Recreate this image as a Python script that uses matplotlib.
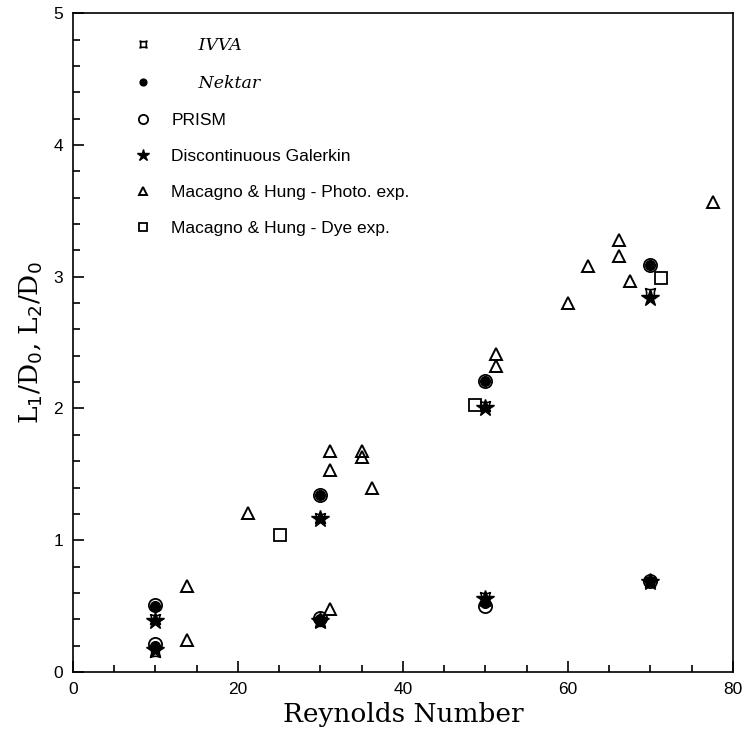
import matplotlib.pyplot as plt
import numpy as np
from matplotlib.path import Path
from matplotlib.ticker import MultipleLocator

# simulations: upper branch (L1) and lower branch (L2) at each Reynolds number
re_sim = [10, 30, 50, 70]
ivva_up = [0.40, 1.17, 2.02, 2.88]
ivva_lo = [0.15, 0.38, 0.57, 0.68]
nektar_up = [0.50, 1.34, 2.21, 3.09]
nektar_lo = [0.20, 0.40, 0.52, 0.69]
prism_up = [0.51, 1.34, 2.21, 3.09]
prism_lo = [0.21, 0.41, 0.50, 0.69]
dg_up = [0.39, 1.16, 2.00, 2.84]
dg_lo = [0.17, 0.39, 0.55, 0.68]

# experiments (Macagno & Hung)
photo_re = [13.8, 13.8, 21.2, 31.2, 31.2, 31.2, 35.0, 35.0, 36.3,
            51.3, 51.3, 60.0, 62.4, 66.2, 66.2, 67.5, 77.6]
photo_l = [0.65, 0.24, 1.21, 0.48, 1.68, 1.53, 1.68, 1.63, 1.40,
           2.41, 2.32, 2.80, 3.08, 3.28, 3.16, 2.97, 3.57]
dye_re = [25.1, 48.7, 71.3]
dye_l = [1.04, 2.03, 2.99]

# concave square marker for IVVA
verts = [(-1, -1), (0, -0.55), (1, -1), (0.55, 0), (1, 1), (0, 0.55),
         (-1, 1), (-0.55, 0), (-1, -1), (-1, -1)]
codes = [Path.MOVETO, Path.CURVE3, Path.CURVE3, Path.CURVE3, Path.CURVE3,
         Path.CURVE3, Path.CURVE3, Path.CURVE3, Path.CURVE3, Path.CLOSEPOLY]
ivva_marker = Path(verts, codes)

fig = plt.figure(figsize=(7.44, 7.40), dpi=100)
ax = fig.add_axes([0.098, 0.092, 0.887, 0.89])

k = dict(linestyle='none', color='black')
ax.plot(re_sim + re_sim, ivva_up + ivva_lo, marker=ivva_marker, markersize=7,
        markerfacecolor='none', markeredgewidth=1.2, label='     IVVA', **k)
ax.plot(re_sim + re_sim, nektar_up + nektar_lo, marker='o', markersize=7,
        label='     Nektar', **k)
ax.plot(re_sim + re_sim, prism_up + prism_lo, marker='o', markersize=9.5,
        markerfacecolor='none', markeredgewidth=1.3, label='PRISM', **k)
ax.plot(re_sim + re_sim, dg_up + dg_lo, marker='*', markersize=13,
        label='Discontinuous Galerkin', **k)
ax.plot(photo_re, photo_l, marker='^', markersize=8.5, markerfacecolor='none',
        markeredgewidth=1.4, label='Macagno & Hung - Photo. exp.', **k)
ax.plot(dye_re, dye_l, marker='s', markersize=8, markerfacecolor='none',
        markeredgewidth=1.3, label='Macagno & Hung - Dye exp.', **k)

ax.set_xlim(0, 80)
ax.set_ylim(0, 5)
ax.xaxis.set_major_locator(MultipleLocator(20))
ax.xaxis.set_minor_locator(MultipleLocator(5))
ax.yaxis.set_major_locator(MultipleLocator(1))
ax.yaxis.set_minor_locator(MultipleLocator(0.2))
ax.tick_params(which='both', direction='in', top=False, right=False,
               labelsize=12.5, width=1.2)
ax.tick_params(which='major', length=8, pad=7)
ax.tick_params(which='minor', length=5)
for lab in ax.get_xticklabels() + ax.get_yticklabels():
    lab.set_fontfamily('Liberation Sans')
for s in ax.spines.values():
    s.set_linewidth(1.2)

ax.set_xlabel('Reynolds Number', fontfamily='DejaVu Serif', fontsize=19, labelpad=4)
ax.set_ylabel(r'L$_{\rm 1}$/D$_{\rm 0}$, L$_{\rm 2}$/D$_{\rm 0}$',
              fontfamily='DejaVu Serif', fontsize=19, labelpad=6)

leg = ax.legend(loc='upper left', bbox_to_anchor=(0.07, 0.988), frameon=False,
                labelspacing=1.2, handletextpad=1.1,
                prop={'family': 'Liberation Sans', 'size': 12.5},
                handlelength=1.0, markerscale=0.7)
for t in leg.get_texts()[:2]:
    t.set_fontfamily('DejaVu Serif')
    t.set_fontstyle('italic')

fig.savefig('out.png', dpi=100)
